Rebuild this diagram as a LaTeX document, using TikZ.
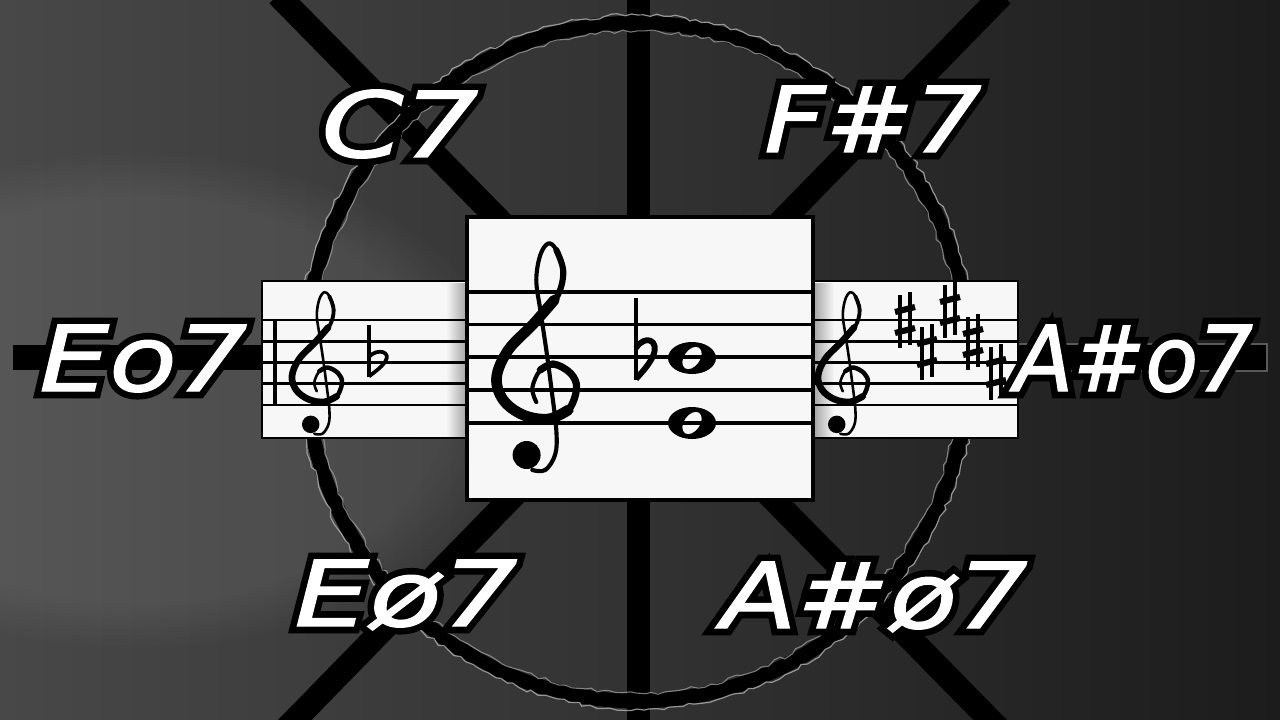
\documentclass[tikz,border=0pt]{standalone}
\usepackage{fontspec}
\usetikzlibrary{calc,fadings,decorations.pathmorphing}
\newfontfamily\lblfont{DejaVu Sans}
\definecolor{bgleft}{RGB}{72,72,72}
\definecolor{bgright}{RGB}{28,28,28}
\definecolor{paper}{RGB}{247,247,247}
\definecolor{ringedge}{RGB}{170,170,170}
\tikzset{
  lbl/.style={font=\lblfont\itshape\fontsize{68}{68}\selectfont, inner sep=0pt, anchor=base west},
  staffbox/.style={fill=paper, draw=black},
  staffline/.style={line width=1.9pt, black},
  bigline/.style={line width=2.4pt, black},
}
% chord label: white text with a black outline (anchored at left end of baseline)
\newcommand{\chordlabel}[4]{%
  \node[lbl, text=black] at (#2) {\addfontfeatures{FakeStretch=#3,FakeBold=16}#4};
  \node[lbl, text=white] (#1) at (#2) {\addfontfeatures{FakeStretch=#3,FakeBold=1.5}#4};
}
% treble clef drawn as strokes: origin = stem on the G line, units = px
\newcommand{\trebleclef}[3]{%
  \begin{scope}[shift={(#1,#2)}, scale=#3, line cap=round, line join=round]
    \draw[line width=#3*3.1pt] plot[smooth, tension=0.6] coordinates {
      (-12,12) (-16,-2) (-8,-20) (5,-26) (22,-17) (28.3,-2) (20,20) (0,29)
      (-25,25) (-45,10) (-51.7,-12.7) (-40,-40) (-15,-66) (8,-92) (15,-118)
      (8,-140) (0,-146.5) (-8,-135) (-12,-110) (-8,-80) (-2,-40) (3.3,0)
      (8,40) (7,64) (-3,80) (-16,80)};
    \draw[line width=#3*5.4pt] plot[smooth, tension=0.6] coordinates {
      (-8,-20) (5,-26) (22,-17) (28.3,-2) (20,20) (0,29)};
    \draw[line width=#3*8pt] plot[smooth, tension=0.6] coordinates {
      (20,20) (0,29) (-25,25) (-45,10) (-51.7,-12.7) (-40,-40) (-15,-66) (6,-90)};
    \draw[line width=#3*4.6pt] plot[smooth, tension=0.6] coordinates {
      (-15,-66) (8,-92) (15,-118) (8,-140)};
    \fill (-21.7,65) ellipse [x radius=14, y radius=14];
  \end{scope}%
}
% flat: origin = top of the stem
\newcommand{\flatsign}[4]{%
  \begin{scope}[shift={(#1,#2)}, xscale=#3, yscale=#4, line cap=butt, line join=round]
    \draw[line width=#4*3.6pt] (0,0) -- (0,82);
    \draw[line width=#4*4.4pt] (0,50) .. controls (9,36) and (24,42) .. (17,58) .. controls (13,67) and (6,74) .. (0,81);
  \end{scope}%
}
% sharp: origin = centre
\newcommand{\sharpsign}[2]{%
  \begin{scope}[shift={(#1,#2)}]
    \draw[line width=2.3pt] (-5,-25) -- (-5,28);
    \draw[line width=2.3pt] (5,-28) -- (5,25);
    \draw[line width=4.6pt] (-10,-8) -- (10,-13);
    \draw[line width=4.6pt] (-10,13) -- (10,8);
  \end{scope}%
}
\newcommand{\wholenote}[2]{%
  \begin{scope}[shift={(#1,#2)}]
    \fill[even odd rule] (0,0) ellipse [x radius=24, y radius=16] [rotate=-35] (0,0) ellipse [x radius=8, y radius=12.5];
  \end{scope}%
}
\begin{document}
\begin{tikzpicture}[x=0.75pt,y=-0.75pt]
\useasboundingbox (0,0) rectangle (1280,720);
% background
\shade[left color=bgleft, right color=bgright] (0,0) rectangle (1280,720);
\fill[white, opacity=0.08, path fading=circle with fuzzy edge 20 percent] (-250,150) rectangle (520,650);
% crossing lines
\coordinate (dA1) at (278,-5);
\coordinate (dA2) at (1000,730);
\coordinate (dB1) at (1002,-5);
\coordinate (dB2) at (285,730);
\coordinate (vt) at (638.5,0);
\coordinate (vb) at (638.5,720);
\draw[line width=18pt, black] (dA1) -- (dA2);
\draw[line width=18pt, black] (dB1) -- (dB2);
\draw[line width=17pt, black] (vt) -- (vb);
\fill[black] (13,345) rectangle (1267,370);
\draw[gray!70!black, line width=0.8pt] (1000,344) -- (1267,344) -- (1267,371) -- (1000,371);
% ring
\draw[line width=11pt, black] (637,362) ellipse [x radius=332, y radius=339];
\draw[ringedge, line width=0.9pt, opacity=0.85, decorate, decoration={random steps, segment length=5, amplitude=1.5}] (637,362) ellipse [x radius=340, y radius=347];
\draw[ringedge, line width=0.8pt, opacity=0.7, decorate, decoration={random steps, segment length=5, amplitude=1.5}] (637,362) ellipse [x radius=324, y radius=331];
% left staff box
\node[staffbox, line width=2.2pt, minimum width=206*0.75pt, minimum height=157*0.75pt, inner sep=0pt] (boxL) at (365,359.5) {};
\shade[left color=paper, right color=black!35] (446,283) rectangle (466,436);
\foreach \y in {320,341.25,362.5,383.75,405}{\draw[staffline] (boxL.west |- 0,\y) -- (boxL.east |- 0,\y);}
\draw[line width=3pt] (274.5,320) -- (274.5,405);
\trebleclef{324.3}{383.75}{0.625}
\flatsign{369}{325}{0.95}{0.634}
% right staff box
\node[staffbox, line width=2.2pt, minimum width=206*0.75pt, minimum height=157*0.75pt, inner sep=0pt] (boxR) at (915,359.5) {};
\shade[left color=black!35, right color=paper] (814,283) rectangle (834,436);
\foreach \y in {320,341.25,362.5,383.75,405}{\draw[staffline] (boxR.west |- 0,\y) -- (boxR.east |- 0,\y);}
\trebleclef{850.3}{383.75}{0.625}
\sharpsign{905}{320}
\sharpsign{927}{352}
\sharpsign{950}{310}
\sharpsign{973}{342}
\sharpsign{996}{372}
% centre staff box
\node[staffbox, line width=3.6pt, minimum width=346*0.75pt, minimum height=283*0.75pt, inner sep=0pt] (boxC) at (640,358.5) {};
\foreach \y in {292,324.5,357,390,423}{\draw[bigline] (boxC.west |- 0,\y) -- (boxC.east |- 0,\y);}
\trebleclef{548.3}{390}{1}
\flatsign{636}{298}{1}{1}
\wholenote{692}{358}
\wholenote{692}{423}
% labels
\chordlabel{c7}{321,157}{1.3}{C7}
\chordlabel{fs7}{764,152}{1.17}{F\#7}
\chordlabel{edim}{39,391}{1.22}{Eo7}
\chordlabel{asdim}{1014,391}{0.95}{A\#o7}
\chordlabel{ehd}{294,626}{1.31}{Eø7}
\chordlabel{ashd}{721,628}{1.22}{A\#ø7}
\end{tikzpicture}
\end{document}
